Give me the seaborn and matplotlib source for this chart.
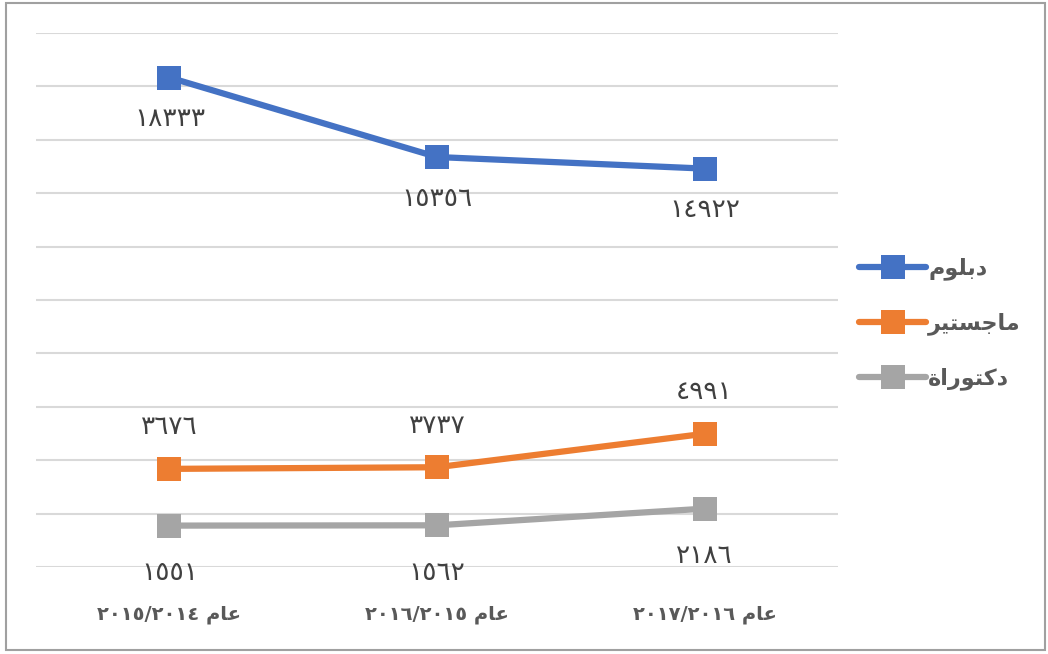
import re
import pandas as pd
import matplotlib.pyplot as plt
import seaborn as sns
from matplotlib.patches import Rectangle

# Dati del grafico
categorie = ["عام ٢٠١٤/٢٠١٥", "عام ٢٠١٥/٢٠١٦", "عام ٢٠١٦/٢٠١٧"]
serie = ["دبلوم", "ماجستير", "دكتوراة"]
dbloum = [18333, 15356, 14922]
majstir = [3676, 3737, 4991]
doktora = [1551, 1562, 2186]
colori = ["#4472C4", "#ED7D31", "#A5A5A5"]

# Forme arabe: isolata, finale, iniziale, mediale (None = non si lega a sinistra)
forme = {
    "ا": ("\uFE8D", "\uFE8E", None, None),
    "ب": ("\uFE8F", "\uFE90", "\uFE91", "\uFE92"),
    "ة": ("\uFE93", "\uFE94", None, None),
    "ت": ("\uFE95", "\uFE96", "\uFE97", "\uFE98"),
    "ج": ("\uFE9D", "\uFE9E", "\uFE9F", "\uFEA0"),
    "د": ("\uFEA9", "\uFEAA", None, None),
    "ر": ("\uFEAD", "\uFEAE", None, None),
    "س": ("\uFEB1", "\uFEB2", "\uFEB3", "\uFEB4"),
    "ع": ("\uFEC9", "\uFECA", "\uFECB", "\uFECC"),
    "ك": ("\uFED9", "\uFEDA", "\uFEDB", "\uFEDC"),
    "ل": ("\uFEDD", "\uFEDE", "\uFEDF", "\uFEE0"),
    "م": ("\uFEE1", "\uFEE2", "\uFEE3", "\uFEE4"),
    "و": ("\uFEED", "\uFEEE", None, None),
    "ي": ("\uFEF1", "\uFEF2", "\uFEF3", "\uFEF4"),
}


def arabo(testo):
    # Shaping semplice + ordine visivo (matplotlib non gestisce RTL)
    out = []
    for i, c in enumerate(testo):
        if c not in forme:
            out.append(c)
            continue
        prev = testo[i - 1] if i > 0 else ""
        nxt = testo[i + 1] if i + 1 < len(testo) else ""
        lega_prev = prev in forme and forme[prev][2] is not None
        lega_next = forme[c][2] is not None and nxt in forme
        iso, fin, ini, med = forme[c]
        if lega_prev and lega_next:
            out.append(med)
        elif lega_prev:
            out.append(fin)
        elif lega_next:
            out.append(ini)
        else:
            out.append(iso)
    token = re.findall(r"[\u0660-\u0669]+|.", "".join(out))
    return "".join(token[::-1])


def cifre(n):
    return str(n).translate(str.maketrans("0123456789", "٠١٢٣٤٥٦٧٨٩"))


etichette_x = [arabo(c) for c in categorie]
df = pd.DataFrame({
    "anno": etichette_x * 3,
    "valore": dbloum + majstir + doktora,
    "serie": [arabo(s) for s in serie for _ in categorie],
})

sns.set_style("white")
plt.rcParams["font.family"] = ["DejaVu Sans"]

fig = plt.figure(figsize=(10.48, 6.54), dpi=100)
ax = fig.add_axes([0.034, 0.133, 0.766, 0.8165])

sns.lineplot(
    data=df, x="anno", y="valore", hue="serie",
    palette=colori, marker="s", markersize=17, markeredgewidth=0,
    linewidth=4.5, ax=ax, sort=False,
)

ax.set_ylim(0, 20000)
ax.set_xlim(-0.5, 2.5)
ax.set_yticks(range(0, 20001, 2000))
ax.set_yticklabels([])
ax.tick_params(axis="both", length=0)
ax.yaxis.grid(True, color="#D9D9D9", linewidth=1.5)
ax.set_axisbelow(True)
for s in ax.spines.values():
    s.set_visible(False)
ax.set_xlabel("")
ax.set_ylabel("")
ax.set_xticks(range(len(etichette_x)))
ax.set_xticklabels(etichette_x, fontsize=14, fontweight="bold", color="#595959")
ax.tick_params(axis="x", pad=27)

# Etichette dei valori
for valori, dy in [(dbloum, -30), (majstir, 30), (doktora, -34)]:
    for i, v in enumerate(valori):
        ax.annotate(cifre(v), (i, v), xytext=(0, dy), textcoords="offset points",
                    ha="center", va="center", fontsize=19, color="#404040")

# Legenda a destra
ax.get_legend().remove()
h, l = ax.get_legend_handles_labels()
fig.legend(h, l, loc="center left", bbox_to_anchor=(0.801, 0.505), frameon=False,
           prop={"size": 16, "weight": "bold"}, labelcolor="#595959",
           handlelength=3.0, labelspacing=1.45, handletextpad=0.1)

# Cornice della figura
fig.patches.append(Rectangle((0.006, 0.006), 0.991, 0.99, transform=fig.transFigure,
                             fill=False, edgecolor="#A0A0A0", linewidth=1.5))

plt.savefig("out.png", dpi=100)
